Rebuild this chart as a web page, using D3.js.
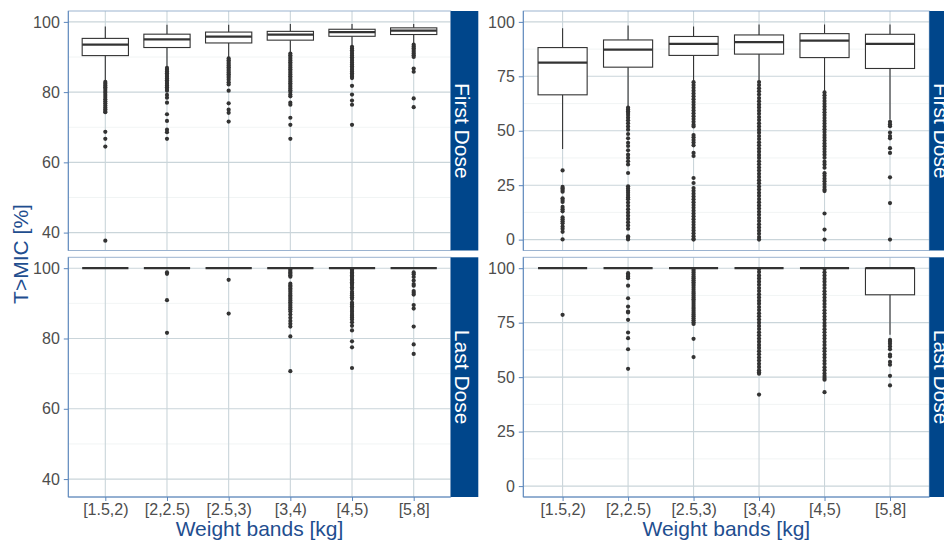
<!DOCTYPE html>
<html>
<head>
<meta charset="utf-8">
<script src="https://cdn.jsdelivr.net/npm/d3@7"></script>
<style>
  body { margin: 0; background: #ffffff; }
  svg { display: block; font-family: "Liberation Sans", Arial, sans-serif; }
</style>
</head>
<body>
<svg id="chart" width="944" height="540"></svg>
<script>
// Weight bands on the x axis
const categories = ["[1.5,2)", "[2,2.5)", "[2.5,3)", "[3,4)", "[4,5)", "[5,8]"];
const rowLabels = ["First Dose", "Last Dose"];

// Box statistics per weight band: [lower whisker, Q1, median, Q3, upper whisker]
const leftFirstBox = [
  [83.3, 90.4, 93.5, 95.3, 98.7],
  [87.2, 92.7, 95.0, 96.5, 99.2],
  [89.9, 94.0, 95.8, 97.1, 99.2],
  [91.3, 94.8, 96.4, 97.3, 99.4],
  [93.0, 95.9, 97.1, 97.9, 99.4],
  [93.6, 96.4, 97.5, 98.3, 99.4]
];
const leftFirstOut = [
  [82.9, 82.4, 81.9, 81.4, 80.9, 80.3, 79.8, 79.2, 78.6, 78.0, 77.4, 76.8, 76.2, 75.6, 75.1, 74.6, 74.3, 68.7, 66.7, 64.5, 37.7],
  [86.9, 86.4, 85.9, 85.4, 84.9, 84.4, 83.9, 83.4, 82.9, 82.4, 81.9, 81.4, 80.9, 80.4, 79.2, 78.4, 77.0, 73.7, 71.8, 69.3, 68.6, 66.7],
  [89.6, 89.1, 88.6, 88.1, 87.6, 87.1, 86.6, 86.1, 85.6, 85.1, 84.6, 84.1, 83.5, 82.8, 82.2, 80.4, 76.8, 75.0, 74.1, 71.6],
  [91.0, 90.5, 90.0, 89.5, 89.0, 88.5, 88.0, 87.5, 87.0, 86.5, 86.0, 85.5, 85.0, 84.5, 84.0, 83.5, 83.0, 82.5, 82.0, 81.5, 81.0, 80.5, 80.0, 79.3, 78.8, 77.0, 76.4, 72.7, 70.7, 66.7],
  [92.9, 92.4, 91.9, 91.4, 90.9, 90.4, 89.9, 89.4, 88.9, 88.4, 87.9, 87.4, 86.9, 86.4, 85.9, 85.4, 84.9, 84.4, 84.0, 81.8, 79.3, 77.6, 76.4, 70.7],
  [93.5, 93.0, 92.5, 92.0, 91.5, 91.0, 90.5, 90.0, 86.7, 85.8, 78.2, 75.7]
];

const leftLastBox = [
  [100, 100, 100, 100, 100],
  [100, 100, 100, 100, 100],
  [100, 100, 100, 100, 100],
  [100, 100, 100, 100, 100],
  [100, 100, 100, 100, 100],
  [100, 100, 100, 100, 100]
];
const leftLastOut = [
  [],
  [98.8, 98.4, 90.9, 81.6],
  [96.7, 87.1],
  [99.6, 99.2, 98.8, 98.4, 98.0, 97.6, 95.6, 95.1, 94.7, 94.2, 93.8, 93.3, 92.7, 92.2, 91.8, 91.3, 90.8, 90.3, 89.8, 89.3, 88.8, 88.3, 87.7, 86.8, 85.9, 85.0, 84.2, 83.4, 80.6, 70.7],
  [99.6, 99.2, 98.8, 98.4, 98.0, 97.6, 97.2, 96.8, 96.4, 96.0, 95.6, 95.2, 94.6, 94.1, 93.3, 92.8, 92.3, 91.7, 91.2, 90.2, 89.7, 89.2, 88.7, 88.1, 87.6, 87.0, 86.5, 86.0, 85.4, 84.6, 83.6, 82.3, 79.2, 77.5, 71.6],
  [98.8, 98.3, 97.5, 96.5, 95.5, 95.0, 93.5, 93.0, 92.5, 89.5, 88.5, 83.4, 78.3, 75.6]
];

const rightFirstBox = [
  [41.6, 66.5, 81.3, 88.2, 97.1],
  [61.0, 79.2, 87.3, 91.7, 98.3],
  [72.6, 84.6, 89.9, 93.3, 97.9],
  [72.6, 85.2, 90.7, 94.0, 98.8],
  [67.9, 83.6, 91.4, 94.6, 98.8],
  [55.0, 78.6, 89.9, 94.3, 98.8]
];
const rightFirstOut = [
  [31.8, 24.2, 23.5, 22.8, 22.0, 19.0, 18.2, 17.3, 15.0, 14.0, 13.0, 10.2, 9.3, 8.4, 7.5, 6.0, 5.0, 3.6, 0.1],
  [60.6, 59.8, 59.0, 58.2, 57.2, 56.0, 54.8, 53.5, 52.0, 50.5, 48.5, 46.5, 44.5, 43.0, 41.0, 39.0, 37.5, 36.0, 34.5, 30.6,
   24.5, 23.5, 22.5, 21.5, 20.5, 19.5, 18.5, 17.0, 15.5, 14.0, 12.5, 11.0, 9.5, 8.0, 6.5, 5.0, 1.5, 0.8, 0.1],
  [72.3, 71.0, 69.7, 68.4, 67.1, 65.8, 64.5, 63.2, 61.9, 60.6, 59.3, 58.0, 56.7, 55.4, 54.1, 52.8, 52.0, 48.0, 47.0, 45.8,
   44.6, 43.3, 39.8, 38.4, 28.3, 26.0, 23.7, 22.4, 21.1, 19.8, 18.5, 17.2, 15.9, 14.6, 13.3, 12.0, 10.7, 9.4, 8.1, 6.8,
   5.5, 4.2, 2.9, 1.6, 0.3, 0.0],
  [72.4, 71.0, 69.5, 68.1, 66.6, 65.0, 63.6, 62.1, 60.7, 59.2, 57.8, 56.3, 54.9, 53.4, 52.0, 50.5, 49.1, 47.6, 46.2, 44.7,
   43.3, 41.8, 40.4, 38.9, 37.5, 36.0, 34.6, 33.1, 31.7, 30.2, 28.8, 27.3, 25.9, 24.4, 23.0, 21.5, 20.1, 18.6, 17.2, 15.7,
   14.3, 12.8, 11.4, 9.9, 8.5, 7.0, 5.6, 4.1, 2.7, 1.2, 0.0],
  [67.6, 66.3, 65.0, 63.7, 62.4, 61.1, 59.8, 58.5, 57.2, 55.9, 54.6, 53.3, 52.0, 50.7, 49.4, 48.1, 46.8, 45.5, 44.2, 42.9,
   41.6, 40.3, 39.0, 37.6, 35.8, 34.5, 33.0, 30.5, 29.3, 28.0, 26.8, 25.5, 24.2, 23.0, 22.3, 12.0, 4.6, 0.0],
  [54.1, 53.0, 52.1, 49.2, 47.6, 46.5, 42.0, 39.8, 28.6, 16.8, 0.0]
];

const rightLastBox = [
  [100, 100, 100, 100, 100],
  [100, 100, 100, 100, 100],
  [100, 100, 100, 100, 100],
  [100, 100, 100, 100, 100],
  [100, 100, 100, 100, 100],
  [69.5, 87.8, 100, 100, 100]
];
const rightLastOut = [
  [78.6],
  [97.7, 96.9, 96.2, 95.4, 92.0, 86.2, 82.4, 80.1, 79.7, 76.3, 70.5, 67.9, 62.8, 53.8],
  [99.6, 98.8, 98.0, 97.1, 96.2, 95.4, 94.5, 93.6, 92.7, 91.9, 91.0, 90.1, 89.2, 88.4, 87.5, 86.6, 85.7, 84.9, 84.0, 83.1,
   82.2, 81.4, 80.5, 79.6, 78.7, 77.9, 77.0, 76.1, 75.2, 74.4, 67.6, 59.2],
  [99.6, 98.2, 96.7, 95.3, 93.8, 92.4, 90.9, 89.5, 88.0, 86.6, 85.1, 83.7, 82.2, 80.8, 79.3, 77.9, 76.4, 75.0, 73.5, 72.1,
   70.6, 69.2, 67.7, 66.3, 64.8, 63.4, 61.9, 60.5, 59.0, 57.6, 56.1, 54.7, 53.2, 52.3, 51.6, 42.0],
  [99.6, 98.1, 96.7, 95.2, 93.8, 92.3, 90.9, 89.4, 88.0, 86.5, 85.1, 83.6, 82.2, 80.7, 79.3, 77.8, 76.4, 74.9, 73.5, 72.0,
   70.6, 69.1, 67.7, 66.2, 64.8, 63.3, 61.9, 60.4, 59.0, 57.5, 56.1, 54.6, 53.2, 51.7, 50.5, 49.6, 48.8, 43.1],
  [67.1, 66.2, 65.3, 64.1, 62.8, 60.4, 59.5, 57.0, 55.7, 50.6, 46.2]
];

// Axis breaks
const leftTicks = [40, 60, 80, 100];
const leftMinor = [50, 70, 90];
const rightTicks = [0, 25, 50, 75, 100];
const rightMinor = [12.5, 37.5, 62.5, 87.5];
const leftYDomain = [34.9, 103.1];
const rightYDomain = [-5, 105];

const yTitle = "T>MIC [%]";
const xTitle = "Weight bands [kg]";

// ---- styling ----
const C = {
  strip: "#00468B",
  border: "#9BB3D0",
  axis: "#5B86BC",
  gridMajor: "#CAD5DA",
  gridMinor: "#EDF1F1",
  text: "#4D4D4D",
  title: "#1F4E8F",
  box: "#333333"
};

const svg = d3.select("#chart");

// Column (plot) and row (facet) geometry
const cols = [
  { x0: 68.3, x1: 450.7, yDomain: leftYDomain, ticks: leftTicks, minor: leftMinor, data: [[leftFirstBox, leftFirstOut], [leftLastBox, leftLastOut]] },
  { x0: 523.3, x1: 929.3, yDomain: rightYDomain, ticks: rightTicks, minor: rightMinor, data: [[rightFirstBox, rightFirstOut], [rightLastBox, rightLastOut]] }
];
const rows = [{ y0: 11, y1: 250.5 }, { y0: 257.3, y1: 497 }];
const stripW = 27.6;

cols.forEach(col => {
  const x = d3.scalePoint().domain(categories).range([col.x0, col.x1]).padding(0.6);
  const bw = x.step() * 0.75;

  rows.forEach((row, ri) => {
    const [boxes, outs] = col.data[ri];
    const y = d3.scaleLinear().domain(col.yDomain).range([row.y1, row.y0]);
    const g = svg.append("g");

    // panel background
    g.append("rect")
      .attr("x", col.x0).attr("y", row.y0)
      .attr("width", col.x1 - col.x0).attr("height", row.y1 - row.y0)
      .attr("fill", "#ffffff");

    // grid lines
    g.selectAll(".minor").data(col.minor).join("line")
      .attr("x1", col.x0).attr("x2", col.x1)
      .attr("y1", d => y(d)).attr("y2", d => y(d))
      .attr("stroke", C.gridMinor).attr("stroke-width", 0.8);
    g.selectAll(".majorY").data(col.ticks).join("line")
      .attr("x1", col.x0).attr("x2", col.x1)
      .attr("y1", d => y(d)).attr("y2", d => y(d))
      .attr("stroke", C.gridMajor).attr("stroke-width", 1.1);
    g.selectAll(".majorX").data(categories).join("line")
      .attr("x1", d => x(d)).attr("x2", d => x(d))
      .attr("y1", row.y0).attr("y2", row.y1)
      .attr("stroke", C.gridMajor).attr("stroke-width", 1.1);

    // outliers
    categories.forEach((cat, i) => {
      g.append("g").selectAll("circle").data(outs[i]).join("circle")
        .attr("cx", x(cat)).attr("cy", d => y(d)).attr("r", 2.1)
        .attr("fill", C.box);
    });

    // boxes
    categories.forEach((cat, i) => {
      const [lo, q1, med, q3, hi] = boxes[i];
      const cx = x(cat);
      const bg = g.append("g");
      bg.append("line").attr("x1", cx).attr("x2", cx).attr("y1", y(q3)).attr("y2", y(hi))
        .attr("stroke", C.box).attr("stroke-width", 1.1);
      bg.append("line").attr("x1", cx).attr("x2", cx).attr("y1", y(q1)).attr("y2", y(lo))
        .attr("stroke", C.box).attr("stroke-width", 1.1);
      bg.append("rect")
        .attr("x", cx - bw / 2).attr("y", y(q3))
        .attr("width", bw).attr("height", Math.max(0, y(q1) - y(q3)))
        .attr("fill", "#ffffff").attr("stroke", C.box).attr("stroke-width", 1.1);
      bg.append("line").attr("x1", cx - bw / 2).attr("x2", cx + bw / 2)
        .attr("y1", y(med)).attr("y2", y(med))
        .attr("stroke", C.box).attr("stroke-width", 2.2);
    });

    // panel border
    g.append("rect")
      .attr("x", col.x0).attr("y", row.y0)
      .attr("width", col.x1 - col.x0).attr("height", row.y1 - row.y0)
      .attr("fill", "none").attr("stroke", C.border).attr("stroke-width", 1);

    // y axis
    const ya = g.append("g").attr("transform", `translate(${col.x0},0)`)
      .call(d3.axisLeft(y).tickValues(col.ticks).tickSize(4.5).tickPadding(4));
    ya.select(".domain").remove();
    ya.selectAll(".tick line").attr("stroke", C.axis);
    ya.selectAll(".tick text").attr("fill", C.text).attr("font-size", 16)
      .attr("font-family", "Liberation Sans, Arial, sans-serif");
    g.append("line").attr("x1", col.x0).attr("x2", col.x0).attr("y1", row.y0).attr("y2", row.y1)
      .attr("stroke", C.axis).attr("stroke-width", 1);

    // x axis on the bottom row only
    if (ri === rows.length - 1) {
      const xa = g.append("g").attr("transform", `translate(0,${row.y1})`)
        .call(d3.axisBottom(x).tickSize(4).tickPadding(2.5));
      xa.select(".domain").remove();
      xa.selectAll(".tick line").attr("stroke", C.axis);
      xa.selectAll(".tick text").attr("fill", C.text).attr("font-size", 16)
        .attr("font-family", "Liberation Sans, Arial, sans-serif");
      g.append("line").attr("x1", col.x0).attr("x2", col.x1).attr("y1", row.y1).attr("y2", row.y1)
        .attr("stroke", C.axis).attr("stroke-width", 1);
    }

    // facet strip
    g.append("rect")
      .attr("x", col.x1).attr("y", row.y0)
      .attr("width", stripW).attr("height", row.y1 - row.y0)
      .attr("fill", C.strip);
    const sy = (row.y0 + row.y1) / 2;
    g.append("text")
      .attr("transform", `translate(${col.x1 + 4.6},${sy}) rotate(90)`)
      .attr("text-anchor", "middle")
      .attr("fill", "#ffffff").attr("font-size", 21)
      .text(rowLabels[ri]);
  });

  // x axis title
  svg.append("text")
    .attr("x", (col.x0 + col.x1) / 2).attr("y", 536)
    .attr("text-anchor", "middle")
    .attr("fill", C.title).attr("font-size", 21)
    .text(xTitle);
});

// y axis title
svg.append("text")
  .attr("transform", `translate(28,${(rows[0].y0 + rows[1].y1) / 2}) rotate(-90)`)
  .attr("text-anchor", "middle")
  .attr("fill", C.title).attr("font-size", 21)
  .text(yTitle);
</script>
</body>
</html>
